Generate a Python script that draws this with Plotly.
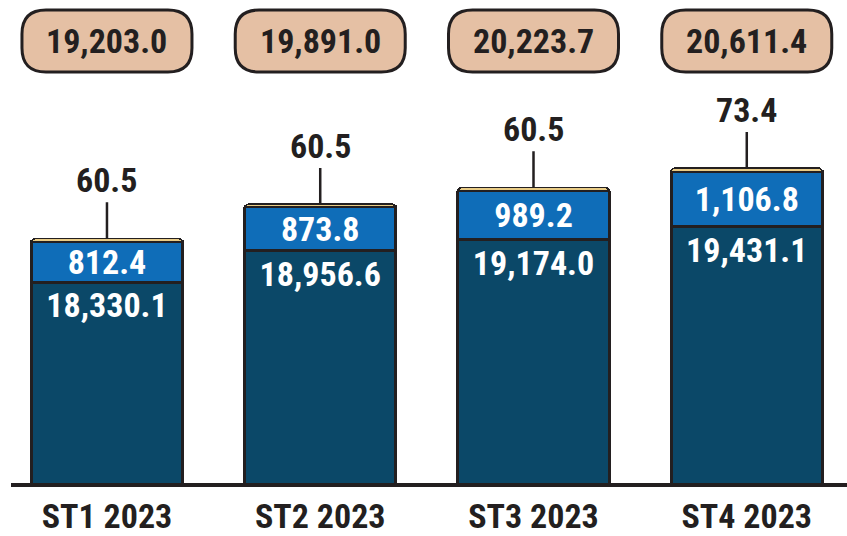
import plotly.graph_objects as go

# ---- data ----
categories = ["ST1 2023", "ST2 2023", "ST3 2023", "ST4 2023"]
base_values = [18330.1, 18956.6, 19174.0, 19431.1]   # dark navy segment
mid_values = [812.4, 873.8, 989.2, 1106.8]           # blue segment
top_values = [60.5, 60.5, 60.5, 73.4]                # yellow segment
totals = [19203.0, 19891.0, 20223.7, 20611.4]        # boxed totals

# ---- style ----
DARK = "#0b4868"
BLUE = "#0f6db8"
YELLOW = "#e9cc86"
BOXFILL = "#e5c0a4"
INK = "#231f20"
FONT = "Roboto Condensed, Roboto, DejaVu Sans Condensed, sans-serif"
FS = 34

W, H = 847, 536
ML, MR, MT, MB = 11, 0, 0, 53
xr = [-0.45, 3.47]
y0 = 14310
ppu = 0.05  # pixels per value unit
plot_h = H - MT - MB
yr = [y0, y0 + plot_h / ppu]

def fmt(v):
    return f"{v:,.1f}"

x_idx = list(range(len(categories)))
bw = 0.71

fig = go.Figure()
fig.add_trace(go.Bar(
    x=x_idx, y=base_values, width=bw,
    marker=dict(color=DARK, line=dict(color=INK, width=3), cornerradius=5),
    text=[f"<b>{fmt(v)}</b>" for v in base_values], textposition="inside", insidetextanchor="end",
    textfont=dict(family=FONT, size=FS, color="white"), textangle=0, name="base"))
fig.add_trace(go.Bar(
    x=x_idx, y=mid_values, width=bw, marker=dict(color=BLUE, line=dict(color=INK, width=3)),
    text=[f"<b>{fmt(v)}</b>" for v in mid_values], textposition="inside", insidetextanchor="middle",
    textfont=dict(family=FONT, size=FS, color="white"), textangle=0, name="mid"))
fig.add_trace(go.Bar(
    x=x_idx, y=top_values, width=bw, marker=dict(color=YELLOW, line=dict(color=INK, width=1.5)),
    name="top", hoverinfo="skip"))

# leader labels for the yellow segment
for i, (b, m, t) in enumerate(zip(base_values, mid_values, top_values)):
    fig.add_annotation(x=i, y=b + m + t, xref="x", yref="y", text=f"<b>{t:.1f}</b>",
                       showarrow=True, arrowhead=0, arrowwidth=2.5, arrowcolor=INK,
                       ax=0, ay=-36, yanchor="bottom",
                       font=dict(family=FONT, size=FS, color=INK))

# total boxes (rounded), positioned above each category
px_per_x = (W - ML - MR) / (xr[1] - xr[0])
half_w = 85 / px_per_x
r = 24
rx = r / px_per_x
ry = r / plot_h
ytop = (plot_h - 10) / plot_h
ybot = (plot_h - 72) / plot_h
for i, tot in enumerate(totals):
    x0, x1 = i - half_w, i + half_w
    path = (f"M {x0+rx},{ytop} L {x1-rx},{ytop} Q {x1},{ytop} {x1},{ytop-ry} "
            f"L {x1},{ybot+ry} Q {x1},{ybot} {x1-rx},{ybot} "
            f"L {x0+rx},{ybot} Q {x0},{ybot} {x0},{ybot+ry} "
            f"L {x0},{ytop-ry} Q {x0},{ytop} {x0+rx},{ytop} Z")
    fig.add_shape(type="path", path=path, xref="x", yref="paper",
                  fillcolor=BOXFILL, line=dict(color=INK, width=3), layer="above")
    fig.add_annotation(x=i, y=(ytop + ybot) / 2, xref="x", yref="paper", text=f"<b>{fmt(tot)}</b>",
                       showarrow=False, yanchor="middle",
                       font=dict(family=FONT, size=FS, color=INK))

fig.update_layout(
    width=W, height=H, barmode="stack", showlegend=False,
    margin=dict(l=ML, r=MR, t=MT, b=MB),
    plot_bgcolor="white", paper_bgcolor="white",
    uniformtext=dict(minsize=FS, mode="show"),
    font=dict(family=FONT, color=INK),
)
fig.update_xaxes(range=xr, tickvals=x_idx, ticktext=[f"<b>{c}</b>" for c in categories],
                 tickfont=dict(family=FONT, size=FS, color=INK), showline=True, linewidth=4,
                 linecolor=INK, showgrid=False, zeroline=False, ticks="", ticklen=0)
fig.update_yaxes(range=yr, visible=False, showgrid=False)

fig.write_html("out.html", config={"displayModeBar": False},
               post_script="document.body.style.margin='0px';")
